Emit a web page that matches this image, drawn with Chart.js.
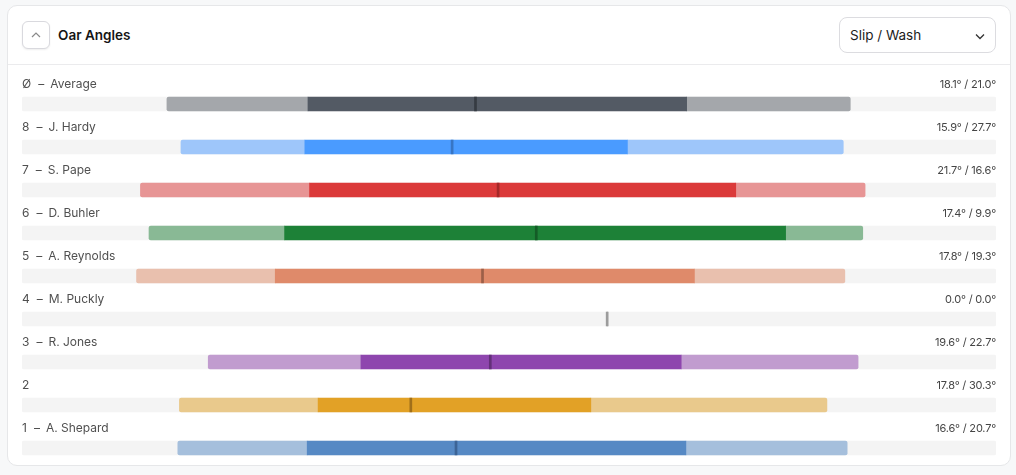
<!DOCTYPE html>
<html>
<head>
<meta charset="utf-8">
<script src="https://cdn.jsdelivr.net/npm/chart.js@4.4.1/dist/chart.umd.min.js"></script>
<style>
  html, body { margin: 0; padding: 0; }
  body { width: 1016px; height: 475px; background: #f7f8f9; position: relative; overflow: hidden;
         font-family: Inter, "Noto Sans", "DejaVu Sans", sans-serif; }
  .card { position: absolute; left: 7px; top: 5px; width: 1002px; height: 459px; background: #fff;
          border: 1px solid #e6e7e9; border-radius: 10px; }
  .sep { position: absolute; left: 8px; top: 64px; width: 1002px; height: 1px; background: #ebebed; }
  .btn { position: absolute; left: 22px; top: 21px; width: 26px; height: 26px; border: 1px solid #d9d9de;
         border-radius: 6px; background: #fff; box-shadow: 0 1px 2px rgba(0,0,0,0.07); }
  .btn svg { position: absolute; left: 8px; top: 10px; }
  .title { position: absolute; left: 58px; top: 26px; line-height: 18px; font-size: 13.5px; font-weight: 600; color: #151515; }
  .dd { position: absolute; left: 839px; top: 17px; width: 155px; height: 34px; border: 1px solid #dcdce0;
        border-radius: 8px; background: #fff; }
  .dd .txt { position: absolute; left: 10px; top: 8px; line-height: 18px; font-size: 13.5px; color: #1c1c1c; }
  .dd svg { position: absolute; left: 135px; top: 15px; }
  #wrap { position: absolute; left: 0; top: 0; width: 1016px; height: 475px; }
  .lbl { position: absolute; line-height: 14px; font-size: 12px; color: #505050; white-space: pre; }
  .lbl .d { margin: 0 6px 0 7px; }
  .val { position: absolute; line-height: 14px; font-size: 11px; letter-spacing: -0.2px; color: #454545;
         white-space: pre; text-align: right; }
</style>
</head>
<body>
<div class="card"></div>
<div class="sep"></div>
<div class="btn"><svg width="10" height="6" viewBox="0 0 10 6"><polyline points="1,5 5,1 9,5" fill="none" stroke="#8a8a8a" stroke-width="1.2"/></svg></div>
<div class="title">Oar Angles</div>
<div class="dd"><span class="txt">Slip / Wash</span><svg width="10" height="7" viewBox="0 0 10 7"><polyline points="1,1.5 5,5.5 9,1.5" fill="none" stroke="#333" stroke-width="1.3"/></svg></div>
<div id="wrap"><canvas id="c" width="1016" height="475"></canvas></div>
<script>
// ---- data (degrees) ----
const seats = ['Ø', '8', '7', '6', '5', '4', '3', '2', '1'];
const names = ['Average', 'J. Hardy', 'S. Pape', 'D. Buhler', 'A. Reynolds', 'M. Puckly', 'R. Jones', '', 'A. Shepard'];
const catchAngle  = [-56.5, -54.7, -59.9, -58.8, -60.4, 0.0, -51.2, -54.9, -55.1];
const finishAngle = [31.2, 30.3, 33.1, 32.8, 30.5, 0.0, 32.2, 28.2, 30.8];
const slip = [18.1, 15.9, 21.7, 17.4, 17.8, 0.0, 19.6, 17.8, 16.6];
const wash = [21.0, 27.7, 16.6, 9.9, 19.3, 0.0, 22.7, 30.3, 20.7];
const peakAngle = [-16.9, -19.9, -14.0, -9.1, -16.0, 0.0, -15.0, -25.2, -19.4];
const axisMin = -75.1, axisMax = 49.9;

// ---- styles ----
const lightColors = ['#a4a7ab', '#9ec6fa', '#e79595', '#89b995', '#e9c0ae', '#c8c8c8', '#c19ccf', '#e9c98c', '#a5bfdc'];
const darkColors  = ['#535a64', '#4a9bff', '#db3a3a', '#1d8137', '#df8a6a', '#c8c8c8', '#8e46ae', '#e2a126', '#5689c4'];
const markerColors = ['#363b42', '#3775c4', '#a52828', '#145c27', '#9c5f48', '#9c9c9c', '#633079', '#a06f1a', '#3c6496'];
const trackColor = '#f4f4f4';
const markerHalf = 0.13;

const valueLabels = slip.map((s, i) => s.toFixed(1) + '° / ' + wash[i].toFixed(1) + '°');
const categories = seats.map((s, i) => names[i] ? s + ' – ' + names[i] : s);

const trackData = seats.map(() => [axisMin, axisMax]);
const slipData = catchAngle.map((c, i) => [c, c + slip[i]]);
const driveData = catchAngle.map((c, i) => [c + slip[i], finishAngle[i] - wash[i]]);
const washData = finishAngle.map((f, i) => [f - wash[i], f]);
const markerData = peakAngle.map(p => [p - markerHalf, p + markerHalf]);

const common = { grouped: false, barThickness: 14, borderSkipped: false, borderWidth: 0 };

const labelPlugin = {
  id: 'rowLabels',
  afterDraw(chart) {
    if (chart._labelsDone) return;
    chart._labelsDone = true;
    const wrap = document.getElementById('wrap');
    const ys = chart.scales.y, area = chart.chartArea;
    seats.forEach((s, i) => {
      const cy = ys.getPixelForValue(i);
      const l = document.createElement('div');
      l.className = 'lbl';
      const a = document.createElement('span');
      a.textContent = s;
      l.appendChild(a);
      if (names[i]) {
        const d = document.createElement('span');
        d.className = 'd';
        d.textContent = '–';
        l.appendChild(d);
        const n = document.createElement('span');
        n.textContent = names[i];
        l.appendChild(n);
      }
      l.style.left = area.left + 'px';
      l.style.top = (cy - 20 - 7) + 'px';
      wrap.appendChild(l);
      const v = document.createElement('div');
      v.className = 'val';
      v.textContent = valueLabels[i];
      v.style.right = (chart.width - area.right) + 'px';
      v.style.top = (cy - 20 - 7) + 'px';
      wrap.appendChild(v);
    });
  }
};

new Chart(document.getElementById('c'), {
  type: 'bar',
  data: {
    labels: categories,
    datasets: [
      Object.assign({ label: 'peak', data: markerData, backgroundColor: markerColors, order: 0 }, common),
      Object.assign({ label: 'drive', data: driveData, backgroundColor: darkColors, order: 1 }, common),
      Object.assign({ label: 'slip', data: slipData, backgroundColor: lightColors, order: 2,
        borderRadius: { topLeft: 2, bottomLeft: 2, topRight: 0, bottomRight: 0 } }, common),
      Object.assign({ label: 'wash', data: washData, backgroundColor: lightColors, order: 2,
        borderRadius: { topLeft: 0, bottomLeft: 0, topRight: 2, bottomRight: 2 } }, common),
      Object.assign({ label: 'track', data: trackData, backgroundColor: trackColor, order: 3, borderRadius: 2 }, common)
    ]
  },
  options: {
    indexAxis: 'y',
    responsive: false,
    animation: false,
    layout: { padding: { left: 22, right: 20, top: 82.5, bottom: 5.5 } },
    scales: {
      x: { type: 'linear', min: axisMin, max: axisMax, display: false },
      y: { type: 'category', display: false }
    },
    plugins: { legend: { display: false }, tooltip: { enabled: false } }
  },
  plugins: [labelPlugin]
});
</script>
</body>
</html>
